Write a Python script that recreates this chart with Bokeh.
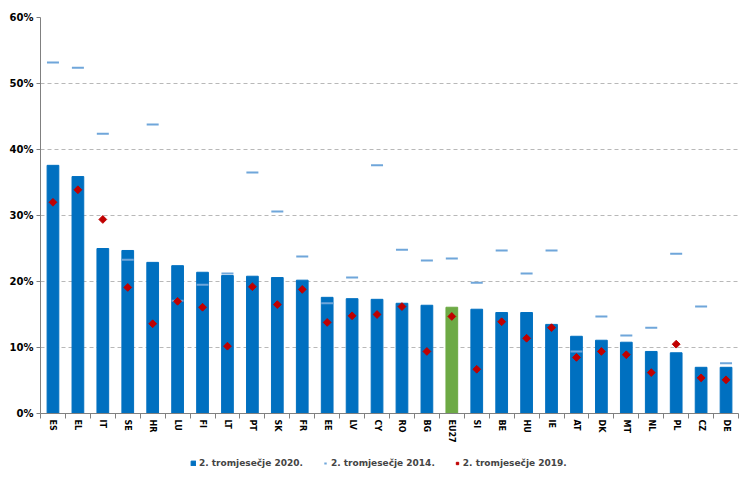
import math
from bokeh.plotting import figure
from bokeh.layouts import column
from bokeh.models import (ColumnDataSource, Range1d, LinearAxis, FixedTicker,
                          PrintfTickFormatter, Legend, LegendItem)
from bokeh.embed import file_html
from bokeh.resources import INLINE

countries = ["ES", "EL", "IT", "SE", "HR", "LU", "FI", "LT", "PT", "SK", "FR", "EE", "LV", "CY",
             "RO", "BG", "EU27", "SI", "BE", "HU", "IE", "AT", "DK", "MT", "NL", "PL", "CZ", "DE"]
q2_2020 = [37.6, 35.9, 25.0, 24.7, 22.9, 22.4, 21.4, 20.9, 20.8, 20.6, 20.2, 17.6, 17.4, 17.3,
           16.7, 16.4, 16.1, 15.8, 15.3, 15.3, 13.5, 11.7, 11.1, 10.8, 9.4, 9.2, 7.0, 7.0]
q2_2014 = [53.2, 52.4, 42.4, 23.3, 43.8, 17.1, 19.5, 21.2, 36.5, 30.6, 23.8, 16.7, 20.6, 37.6,
           24.8, 23.2, 23.5, 19.8, 24.7, 21.2, 24.7, 9.4, 14.7, 11.8, 13.0, 24.2, 16.2, 7.6]
q2_2019 = [32.0, 33.9, 29.4, 19.1, 13.6, 17.0, 16.1, 10.2, 19.2, 16.5, 18.8, 13.8, 14.8, 15.0,
           16.2, 9.4, 14.7, 6.7, 13.9, 11.4, 13.0, 8.5, 9.4, 8.9, 6.2, 10.5, 5.4, 5.1]
y_ticks = [0, 10, 20, 30, 40, 50, 60]
legend_labels = ["2. tromjesečje 2020.", "2. tromjesečje 2014.", "2. tromjesečje 2019."]

BLUE = "#0070C0"
GREEN = "#6DAA45"
DASH = "#6FA6DA"
RED = "#C00000"
FONT = "DejaVu Sans"

n = len(countries)
xs = [i + 0.5 for i in range(n)]
bar_colors = [GREEN if c == "EU27" else BLUE for c in countries]
src = ColumnDataSource(dict(x=xs, v20=q2_2020, v14=q2_2014, v19=q2_2019, color=bar_colors))

p = figure(width=740, height=449, x_range=Range1d(0, n), y_range=Range1d(0, 60),
           output_backend="svg", toolbar_location=None, x_axis_location=None,
           min_border_left=40, min_border_right=2, min_border_top=17, min_border_bottom=36)
p.outline_line_color = None
p.background_fill_color = "white"

p.vbar(x="x", top="v20", width=0.47, color="color", source=src)
p.scatter(x="x", y="v14", marker="dash", size=12, line_width=2, line_color=DASH, source=src)
p.scatter(x="x", y="v19", marker="square", angle=math.pi / 4, size=5.5,
          fill_color=RED, line_color=RED, source=src)

# y axis
p.yaxis.ticker = FixedTicker(ticks=y_ticks)
p.yaxis.formatter = PrintfTickFormatter(format="%d%%")
p.yaxis.axis_line_color = "#808080"
p.yaxis.major_tick_line_color = "#808080"
p.yaxis.major_tick_out = 4
p.yaxis.major_tick_in = 0
p.yaxis.minor_tick_line_color = None
p.yaxis.major_label_text_font = FONT
p.yaxis.major_label_text_font_style = "bold"
p.yaxis.major_label_text_font_size = "10px"
p.yaxis.major_label_text_color = "black"
p.yaxis.major_label_standoff = 3

p.ygrid.grid_line_color = "#B8B8B8"
p.ygrid.grid_line_dash = "4 3"
p.ygrid.ticker = FixedTicker(ticks=y_ticks[1:])
p.xgrid.grid_line_color = None

# x axis: labels at category centres, tick marks between categories
label_axis = LinearAxis(ticker=FixedTicker(ticks=xs, minor_ticks=list(range(n + 1))),
                        major_label_overrides={x: c for x, c in zip(xs, countries)},
                        axis_line_color="#808080", major_tick_line_color=None,
                        major_tick_out=5, major_tick_in=0,
                        minor_tick_line_color="#808080", minor_tick_out=5, minor_tick_in=0,
                        major_label_orientation=-math.pi / 2, major_label_text_font=FONT,
                        major_label_text_font_style="bold", major_label_text_font_size="8px",
                        major_label_text_color="black", major_label_standoff=1)
p.add_layout(label_axis, "below")

# legend strip underneath: same series and styles, with the data scrolled out of view
lg = figure(width=740, height=28, x_range=Range1d(0, n), y_range=Range1d(1000, 1001),
            output_backend="svg", toolbar_location=None, x_axis_location=None, y_axis_location=None,
            min_border=0, min_border_left=40, min_border_right=2, min_border_top=0, min_border_bottom=0)
lg.outline_line_color = None
lg.grid.visible = False
r1 = lg.vbar(x="x", top="v20", width=0.47, color=BLUE, source=src)
r2 = lg.scatter(x="x", y="v14", marker="dash", size=12, line_width=2, line_color=DASH, source=src)
r3 = lg.scatter(x="x", y="v19", marker="square", angle=math.pi / 4, size=5.5,
                fill_color=RED, line_color=RED, source=src)
legend = Legend(items=[LegendItem(label=legend_labels[0], renderers=[r1]),
                       LegendItem(label=legend_labels[1], renderers=[r2]),
                       LegendItem(label=legend_labels[2], renderers=[r3])],
                orientation="horizontal", location=(150, 8), padding=0, margin=0,
                spacing=19, glyph_width=6, glyph_height=6, label_standoff=3, label_width=0,
                label_text_font=FONT, label_text_font_style="bold", label_text_font_size="9px",
                label_height=12, border_line_color=None, background_fill_alpha=0)
lg.add_layout(legend, "center")

layout = column(p, lg, spacing=0)
open("out.html", "w").write(file_html(layout, INLINE))
